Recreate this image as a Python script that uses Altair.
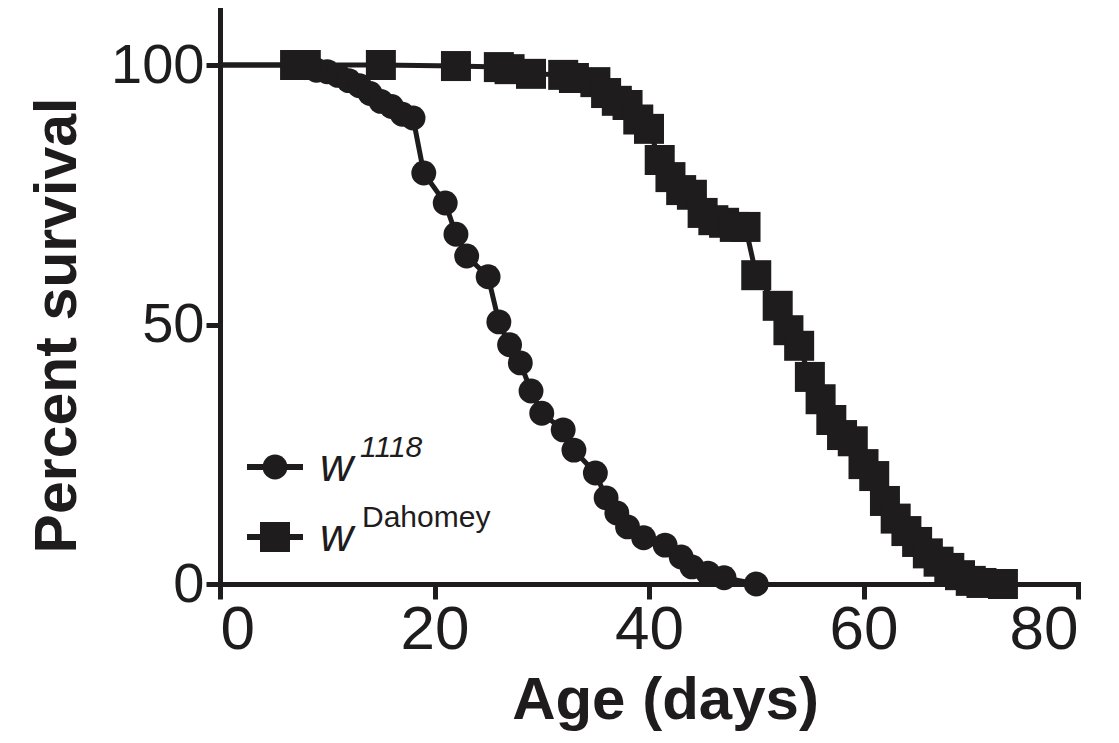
import altair as alt
import pandas as pd

# ---- data ----
w1118_days = [0, 7, 8, 9, 10, 11, 12, 13, 14, 15, 16, 17, 18,
              19, 21, 22, 23, 25, 26, 27, 28, 29, 30,
              32, 33, 35, 36, 37, 38, 39.5, 41.5, 43, 44, 45.5, 47, 50]
w1118_surv = [100, 100, 99.5, 99, 98.7, 98, 97, 96, 94.5, 93, 92, 90.5, 89.8,
              79.2, 73.4, 67.4, 63.2, 59.2, 50.5, 46.1, 42.6, 37.2, 32.9,
              29.7, 25.8, 21.4, 16.6, 13.7, 11, 8.9, 7.5, 5.2, 3.3, 2.1, 1.2, 0]

dah_days = [0, 7, 8, 15, 22, 26, 27, 29,
            32, 33, 35, 36, 37, 38, 39, 40, 41, 42, 43, 44, 45, 46, 47, 48, 49, 50,
            52, 53, 54, 55, 56, 57, 58, 59, 60, 61, 62, 63, 64, 65, 66, 67, 68, 69, 70, 71,
            73]
dah_surv = [100, 100, 100, 100, 99.8, 99.6, 99.2, 98.3,
            98.1, 97.5, 96.7, 94.6, 93.1, 92.3, 89.5, 87.7, 81.7, 78.4, 75.9, 75, 71.5, 70.1, 69.6, 68.8, 68.8, 59.5,
            53.6, 48.9, 45.9, 39.9, 35.6, 31.6, 28.7, 27.5, 23.1, 20.8, 16, 12.6, 10.2, 8.1, 5.9, 4.3, 3.1, 1.7, 0.6, 0.2,
            0]

series_names = ["w1118", "wDahomey"]
superscripts = ["1118", "Dahomey"]
x_ticks = [0, 20, 40, 60, 80]
y_ticks = [0, 50, 100]

df = pd.concat([
    pd.DataFrame({"day": w1118_days, "surv": w1118_surv, "series": series_names[0]}),
    pd.DataFrame({"day": dah_days, "surv": dah_surv, "series": series_names[1]}),
], ignore_index=True)

INK = "#1e1c1c"
shape_scale = alt.Scale(domain=series_names, range=["circle", "square"])
size_scale = alt.Scale(domain=series_names, range=[620, 900])

x_enc = alt.X("day:Q", scale=alt.Scale(domain=[0, 80], nice=False, zero=False),
              axis=alt.Axis(values=x_ticks, title="Age (days)", labelFont="Liberation Sans",
                            labelFontSize=62, labelPadding=0, tickSize=15,
                            titleFont="Liberation Sans", titleFontWeight="bold", titleFontSize=60,
                            titleX=445, titleY=134, titleBaseline="alphabetic", titleAlign="center"))
y_enc = alt.Y("surv:Q", scale=alt.Scale(domain=[0, 110.6], nice=False, zero=False),
              axis=alt.Axis(values=y_ticks, title="Percent survival", labelFont="Liberation Sans",
                            labelFontSize=56, labelPadding=2, tickSize=14,
                            titleFont="Liberation Sans", titleFontWeight="bold", titleFontSize=59,
                            titleX=-145, titleY=315, titleBaseline="alphabetic", titleAlign="center",
                            titleAngle=270))

base = alt.Chart(df)

lines = base.mark_line(color=INK, strokeWidth=5).encode(x=x_enc, y=y_enc, detail="series:N")

points = base.transform_filter("datum.day > 0").mark_point(filled=True, opacity=1, color=INK).encode(
    x=x_enc, y=y_enc,
    shape=alt.Shape("series:N", scale=shape_scale, legend=None),
    size=alt.Size("series:N", scale=size_scale, legend=None),
)

# ---- hand-built legend (one row per series) ----
legend_layers = []
row_centers = [457, 527]
for name, sup, yc in zip(series_names, superscripts, row_centers):
    row = alt.Chart(pd.DataFrame({"series": [name], "w": ["w"], "sup": [sup]}))
    legend_layers.append(row.mark_rule(color=INK, strokeWidth=6).encode(
        x=alt.value(27), x2=alt.value(83), y=alt.value(yc)))
    legend_layers.append(row.mark_point(filled=True, opacity=1, color=INK).encode(
        x=alt.value(55), y=alt.value(yc),
        shape=alt.Shape("series:N", scale=shape_scale, legend=None),
        size=alt.Size("series:N", scale=size_scale, legend=None)))
    legend_layers.append(row.mark_text(font="Liberation Sans", fontStyle="italic", fontSize=46,
                                       align="left", baseline="alphabetic", color=INK).encode(
        text="w:N", x=alt.value(100), y=alt.value(yc + 14)))
    legend_layers.append(row.mark_text(font="Liberation Sans", fontSize=30,
                                       fontStyle="italic" if sup == "1118" else "normal",
                                       align="left", baseline="alphabetic", color=INK).encode(
        text="sup:N", x=alt.value(140 if sup == "1118" else 142), y=alt.value(yc - 10)))

chart = alt.layer(lines, points, *legend_layers).properties(
    width=858, height=574,
    autosize=alt.AutoSizeParams(type="none"),
    padding={"left": 212, "top": 2, "right": 33, "bottom": 151},
).configure_view(stroke=None).configure_axis(
    grid=False, domainColor=INK, domainWidth=5, tickColor=INK, tickWidth=5,
    labelColor=INK, titleColor=INK, domainCap="square"
)

chart.save("out.html", embed_options={"renderer": "svg", "actions": False})
